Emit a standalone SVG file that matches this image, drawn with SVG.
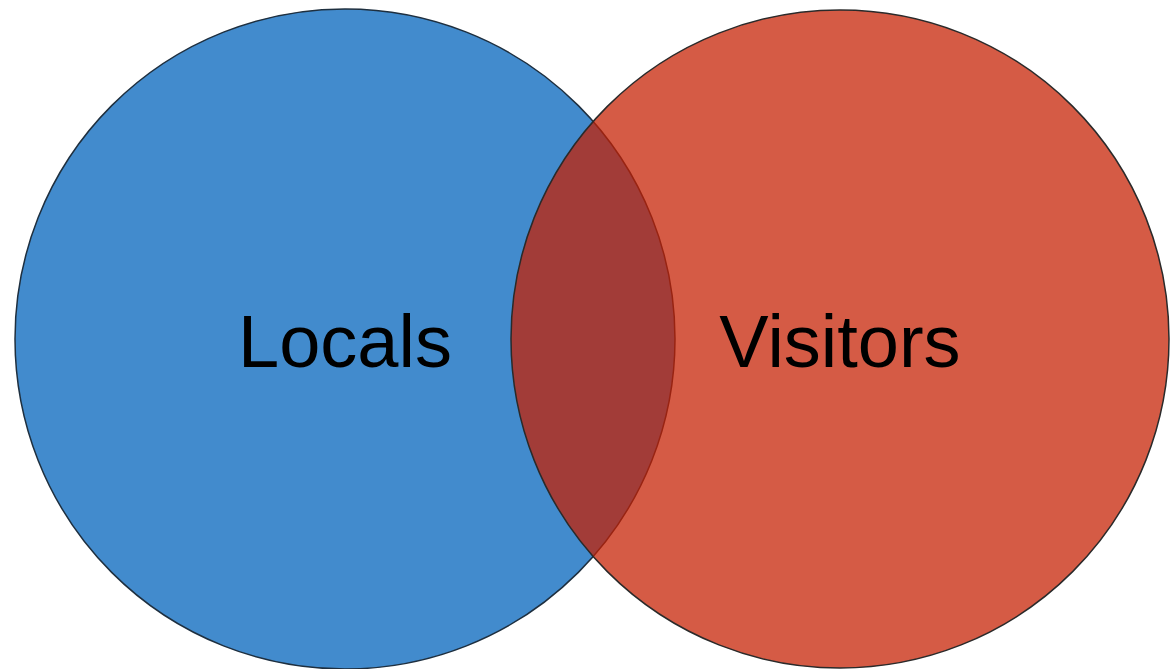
<svg xmlns="http://www.w3.org/2000/svg" width="1173" height="669" viewBox="0 0 1173 669">
<style>
.lbl{font-family:"Liberation Sans",Arial,sans-serif;font-size:74px;fill:#000;text-anchor:middle}
</style>
<rect width="1173" height="669" fill="#fff"/>
<g id="locals">
<circle cx="345" cy="339" r="330" fill="#428BCD" stroke="#1E2F3F" stroke-width="1.5"/>
</g>
<g id="visitors">
<circle cx="840" cy="339" r="329" fill="rgb(198,32,2)" fill-opacity="0.735" stroke="#2A2A2A" stroke-width="1.5"/>
</g>
<g id="labels">
<text class="lbl" x="345" y="367">Locals</text>
<text class="lbl" x="840" y="367">Visitors</text>
</g>
</svg>
